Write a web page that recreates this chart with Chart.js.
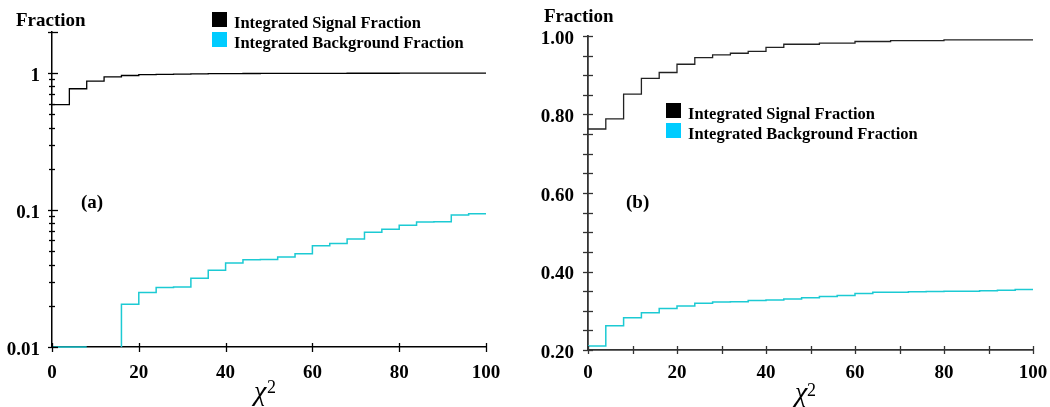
<!DOCTYPE html>
<html>
<head>
<meta charset="utf-8">
<script src="https://cdn.jsdelivr.net/npm/chart.js@4.4.1/dist/chart.umd.min.js"></script>
<style>
  html, body { margin: 0; padding: 0; background: #fff; }
  #wrap { position: relative; width: 1050px; height: 407px; overflow: hidden; }
  canvas { position: absolute; top: 0; }
  #chartA { left: 0; }
  #chartB { left: 530px; }
</style>
</head>
<body>
<div id="wrap">
  <canvas id="chartA" width="530" height="407"></canvas>
  <canvas id="chartB" width="540" height="407"></canvas>
</div>
<script>
// chi2 bin edges, bins are 4 wide
const binEdges = [0, 4, 8, 12, 16, 20, 24, 28, 32, 36, 40, 44, 48, 52, 56, 60, 64, 68, 72, 76, 80, 84, 88, 92, 96, 100];

// panel (a), log scale. null = empty bin (below the 0.01 floor)
const signalA = [0.59, 0.77, 0.874, 0.94, 0.962, 0.975, 0.982, 0.986, 0.99, 0.992, 0.994, 0.995, 0.996, 0.997, 0.997,
  0.998, 0.998, 0.999, 0.999, 0.999, 1.0, 1.0, 1.0, 1.0, 1.0];
const backgroundA = [0.01, 0.01, null, null, 0.0205, 0.025, 0.0272, 0.0274, 0.0318, 0.0364, 0.041, 0.0433, 0.0436,
  0.0455, 0.0479, 0.0548, 0.057, 0.0614, 0.069, 0.0726, 0.0776, 0.0817, 0.0822, 0.092, 0.094];

// panel (b), linear scale
const signalB = [0.763, 0.789, 0.852, 0.892, 0.907, 0.928, 0.945, 0.952, 0.956, 0.961, 0.971, 0.979, 0.979, 0.982,
  0.982, 0.986, 0.986, 0.988, 0.988, 0.988, 0.99, 0.99, 0.99, 0.99, 0.99];
const backgroundB = [0.2104, 0.262, 0.282, 0.295, 0.306, 0.312, 0.319, 0.322, 0.323, 0.326, 0.3275, 0.330, 0.333,
  0.336, 0.339, 0.344, 0.347, 0.347, 0.3486, 0.349, 0.350, 0.350, 0.351, 0.352, 0.354];

// ticks
const xTicksA = [0, 20, 40, 60, 80, 100];
const xTicksB = [0, 10, 20, 30, 40, 50, 60, 70, 80, 90, 100];
const xLabels = [0, 20, 40, 60, 80, 100];
const yLabelsA = [0.01, 0.1, 1];
const yMinorA = [0.02, 0.03, 0.04, 0.05, 0.06, 0.07, 0.08, 0.09, 0.2, 0.3, 0.4, 0.5, 0.6, 0.7, 0.8, 0.9, 2];
const yLabelsB = [0.2, 0.4, 0.6, 0.8, 1.0];
const yMinorB = [0.25, 0.3, 0.35, 0.45, 0.5, 0.55, 0.65, 0.7, 0.75, 0.85, 0.9, 0.95];

const signalLabel = 'Integrated Signal Fraction';
const backgroundLabel = 'Integrated Background Fraction';

const SERIF = '"Liberation Serif", "Times New Roman", serif';
const CYAN_LINE = '#1ccad3';
const CYAN_BOX = '#00ccff';
Chart.defaults.font.family = SERIF;
Chart.defaults.color = '#000';

// step points: value of bin i is drawn from binEdges[i] to binEdges[i+1]
function stepPoints(values, floor) {
  const pts = [{ x: binEdges[0], y: values[0] ?? floor }];
  values.forEach((v, i) => pts.push({ x: binEdges[i + 1], y: v ?? floor }));
  return pts;
}

function stepDataset(label, values, floor, line, box, width) {
  return {
    label: label,
    data: stepPoints(values, floor),
    stepped: 'after',
    borderColor: line,
    backgroundColor: box,
    borderWidth: width,
    pointRadius: 0,
    fill: false,
    clip: false,
    segment: {
      borderColor: c => values[c.p0DataIndex] === null ? 'rgba(0,0,0,0)' : line
    }
  };
}

// tick marks that cross the axis line
const crossTicks = {
  id: 'crossTicks',
  afterDatasetsDraw(chart, args, opts) {
    const { ctx, chartArea } = chart;
    const xs = chart.scales.x, ys = chart.scales.y;
    ctx.save();
    ctx.strokeStyle = opts.color;
    ctx.lineWidth = opts.width;
    ys.ticks.forEach(t => {
      const py = Math.round(ys.getPixelForValue(t.value)) + 0.5;
      const len = opts.yMajor(t.value) ? opts.majorLen : opts.minorLen;
      ctx.beginPath();
      ctx.moveTo(chartArea.left - len[0], py);
      ctx.lineTo(chartArea.left + len[1], py);
      ctx.stroke();
    });
    xs.ticks.forEach(t => {
      const px = Math.round(xs.getPixelForValue(t.value)) + 0.5;
      ctx.beginPath();
      ctx.moveTo(px, chartArea.bottom - opts.xLen[0]);
      ctx.lineTo(px, chartArea.bottom + opts.xLen[1]);
      ctx.stroke();
    });
    ctx.restore();
  }
};

// legend with filled squares
const boxLegend = {
  id: 'boxLegend',
  afterDraw(chart, args, opts) {
    const ctx = chart.ctx;
    ctx.save();
    ctx.font = 'bold 16.5px ' + SERIF;
    ctx.textBaseline = 'alphabetic';
    chart.data.datasets.forEach((ds, i) => {
      const y = opts.y + i * 20;
      ctx.fillStyle = ds.backgroundColor;
      ctx.fillRect(opts.x, y, 15, 15);
      ctx.fillStyle = '#000';
      ctx.fillText(ds.label, opts.x + 22, y + 16);
    });
    ctx.restore();
  }
};

// free text: axis name, panel tag, chi2 title
const notes = {
  id: 'notes',
  afterDraw(chart, args, opts) {
    const ctx = chart.ctx;
    ctx.save();
    ctx.fillStyle = '#000';
    ctx.textBaseline = 'alphabetic';
    opts.items.forEach(it => {
      ctx.font = it.font;
      ctx.fillText(it.text, it.x, it.y);
    });
    ctx.restore();
  }
};

const tickFont = { size: 19, weight: 'bold', family: SERIF };

function baseOptions() {
  return {
    responsive: false,
    animation: false,
    events: [],
    plugins: { legend: { display: false }, tooltip: { enabled: false } }
  };
}

// panel (a)
const optsA = baseOptions();
optsA.layout = { padding: { left: 0, top: 32, right: 44, bottom: 0 } };
optsA.scales = {
  x: {
    type: 'linear', min: 0, max: 100,
    grid: { display: false, drawTicks: false },
    border: { color: '#000', width: 1.5 },
    ticks: {
      autoSkip: false, maxRotation: 0, padding: 15, font: tickFont,
      callback: v => xLabels.includes(v) ? String(v) : ''
    },
    afterBuildTicks: s => { s.ticks = xTicksA.map(v => ({ value: v })); },
    afterFit: s => { s.height = 60; }
  },
  y: {
    type: 'logarithmic', min: 0.01, max: 2,
    grid: { display: false, drawTicks: false },
    border: { color: '#000', width: 1.5 },
    ticks: {
      autoSkip: false, padding: 12, labelOffset: 3, font: tickFont,
      callback: v => yLabelsA.includes(v) ? String(v) : ''
    },
    afterBuildTicks: s => {
      s.ticks = yLabelsA.concat(yMinorA).sort((a, b) => a - b).map(v => ({ value: v }));
    },
    afterFit: s => { s.width = 52; }
  }
};
optsA.plugins.crossTicks = {
  color: '#000', width: 1.3, majorLen: [4, 6], minorLen: [3, 3], xLen: [4, 5],
  yMajor: v => yLabelsA.includes(v) || v === 2
};
optsA.plugins.boxLegend = { x: 212, y: 12 };
optsA.plugins.notes = {
  items: [
    { text: 'Fraction', x: 16, y: 26, font: 'bold 19px ' + SERIF },
    { text: '(a)', x: 81, y: 208, font: 'bold 19px ' + SERIF },
    { text: 'χ', x: 254, y: 400, font: 'italic 28px ' + SERIF },
    { text: '2', x: 267, y: 392.5, font: '18px ' + SERIF }
  ]
};

new Chart(document.getElementById('chartA'), {
  type: 'line',
  data: {
    datasets: [
      stepDataset(signalLabel, signalA, 0.01, '#000', '#000', 1.3),
      stepDataset(backgroundLabel, backgroundA, 0.01, CYAN_LINE, CYAN_BOX, 1.5)
    ]
  },
  options: optsA,
  plugins: [crossTicks, boxLegend, notes]
});

// panel (b)
const optsB = baseOptions();
optsB.layout = { padding: { left: 0, top: 36, right: 37, bottom: 0 } };
optsB.scales = {
  x: {
    type: 'linear', min: 0, max: 100,
    grid: { display: false, drawTicks: false },
    border: { color: '#333', width: 1.8 },
    ticks: {
      autoSkip: false, maxRotation: 0, padding: 12, font: tickFont,
      callback: v => xLabels.includes(v) ? String(v) : ''
    },
    afterBuildTicks: s => { s.ticks = xTicksB.map(v => ({ value: v })); },
    afterFit: s => { s.height = 57; }
  },
  y: {
    type: 'linear', min: 0.2, max: 1.0,
    grid: { display: false, drawTicks: false },
    border: { color: '#333', width: 1.8 },
    ticks: {
      autoSkip: false, padding: 14, labelOffset: 3, font: tickFont,
      callback: v => yLabelsB.includes(v) ? v.toFixed(2) : ''
    },
    afterBuildTicks: s => {
      s.ticks = yLabelsB.concat(yMinorB).sort((a, b) => a - b).map(v => ({ value: v }));
    },
    afterFit: s => { s.width = 58; }
  }
};
optsB.plugins.crossTicks = {
  color: '#333', width: 1.3, majorLen: [5, 5], minorLen: [5, 5], xLen: [4, 4],
  yMajor: v => yLabelsB.includes(v)
};
optsB.plugins.boxLegend = { x: 136, y: 103 };
optsB.plugins.notes = {
  items: [
    { text: 'Fraction', x: 14, y: 22, font: 'bold 19px ' + SERIF },
    { text: '(b)', x: 96, y: 208, font: 'bold 19px ' + SERIF },
    { text: 'χ', x: 265, y: 401, font: 'italic 28px ' + SERIF },
    { text: '2', x: 277, y: 396, font: '18px ' + SERIF }
  ]
};

new Chart(document.getElementById('chartB'), {
  type: 'line',
  data: {
    datasets: [
      stepDataset(signalLabel, signalB, 0.2, '#222', '#000', 1.3),
      stepDataset(backgroundLabel, backgroundB, 0.2, CYAN_LINE, CYAN_BOX, 1.5)
    ]
  },
  options: optsB,
  plugins: [crossTicks, boxLegend, notes]
});
</script>
</body>
</html>
